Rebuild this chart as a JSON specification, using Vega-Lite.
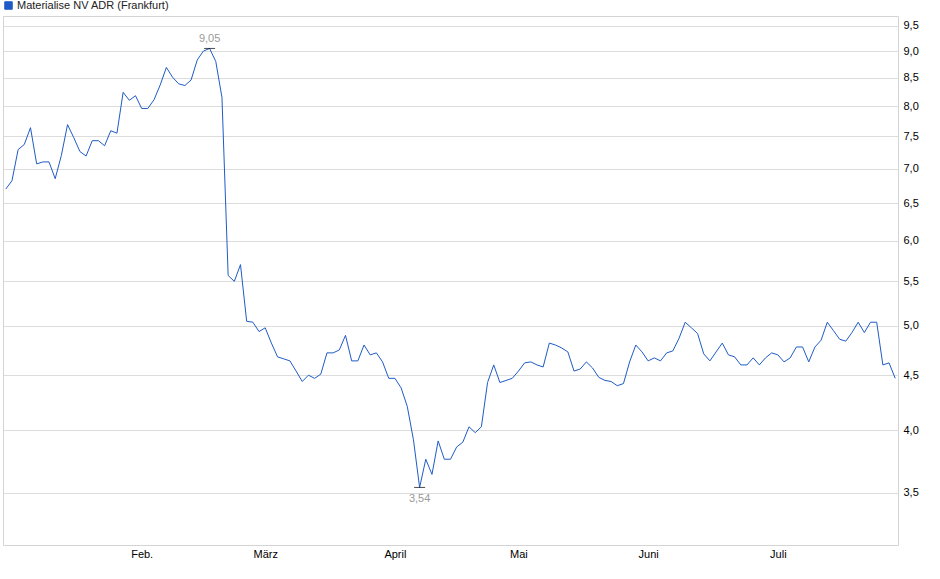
{
  "$schema": "https://vega.github.io/schema/vega-lite/v6.json",
  "description": "Materialise NV ADR (Frankfurt), Kursverlauf Jan-Jul 2025, Handelstage gleichmaessig verteilt.",
  "width": 895,
  "height": 529,
  "autosize": "none",
  "padding": {"left": 3, "top": 16, "right": 42, "bottom": 34},
  "config": {
    "font": "Liberation Sans",
    "view": {"stroke": "#d4d4d4", "strokeWidth": 1},
    "axis": {
      "gridColor": "#dcdcdc",
      "gridWidth": 1,
      "domain": false,
      "ticks": false,
      "labelFontSize": 11,
      "labelColor": "#000000",
      "title": null
    }
  },
  "datasets": {
    "prices": [
      {"date": "2025-01-02", "price": 6.70}, {"date": "2025-01-03", "price": 6.82},
      {"date": "2025-01-06", "price": 7.29}, {"date": "2025-01-07", "price": 7.37},
      {"date": "2025-01-08", "price": 7.64}, {"date": "2025-01-09", "price": 7.07},
      {"date": "2025-01-10", "price": 7.10}, {"date": "2025-01-13", "price": 7.10},
      {"date": "2025-01-14", "price": 6.85}, {"date": "2025-01-15", "price": 7.20},
      {"date": "2025-01-16", "price": 7.69}, {"date": "2025-01-17", "price": 7.48},
      {"date": "2025-01-20", "price": 7.26}, {"date": "2025-01-21", "price": 7.19},
      {"date": "2025-01-22", "price": 7.43}, {"date": "2025-01-23", "price": 7.43},
      {"date": "2025-01-24", "price": 7.35}, {"date": "2025-01-27", "price": 7.59},
      {"date": "2025-01-28", "price": 7.55}, {"date": "2025-01-29", "price": 8.24},
      {"date": "2025-01-30", "price": 8.10}, {"date": "2025-01-31", "price": 8.18},
      {"date": "2025-02-03", "price": 7.96}, {"date": "2025-02-04", "price": 7.96},
      {"date": "2025-02-05", "price": 8.11}, {"date": "2025-02-06", "price": 8.37},
      {"date": "2025-02-07", "price": 8.69}, {"date": "2025-02-10", "price": 8.51},
      {"date": "2025-02-11", "price": 8.39}, {"date": "2025-02-12", "price": 8.36},
      {"date": "2025-02-13", "price": 8.46}, {"date": "2025-02-14", "price": 8.83},
      {"date": "2025-02-17", "price": 9.00}, {"date": "2025-02-18", "price": 9.05},
      {"date": "2025-02-19", "price": 8.80}, {"date": "2025-02-20", "price": 8.15},
      {"date": "2025-02-21", "price": 5.57}, {"date": "2025-02-24", "price": 5.50},
      {"date": "2025-02-25", "price": 5.70}, {"date": "2025-02-26", "price": 5.05},
      {"date": "2025-02-27", "price": 5.04}, {"date": "2025-02-28", "price": 4.94},
      {"date": "2025-03-03", "price": 4.98}, {"date": "2025-03-04", "price": 4.82},
      {"date": "2025-03-05", "price": 4.68}, {"date": "2025-03-06", "price": 4.66},
      {"date": "2025-03-07", "price": 4.64}, {"date": "2025-03-10", "price": 4.54},
      {"date": "2025-03-11", "price": 4.44}, {"date": "2025-03-12", "price": 4.50},
      {"date": "2025-03-13", "price": 4.47}, {"date": "2025-03-14", "price": 4.51},
      {"date": "2025-03-17", "price": 4.72}, {"date": "2025-03-18", "price": 4.72},
      {"date": "2025-03-19", "price": 4.75}, {"date": "2025-03-20", "price": 4.90},
      {"date": "2025-03-21", "price": 4.64}, {"date": "2025-03-24", "price": 4.64},
      {"date": "2025-03-25", "price": 4.80}, {"date": "2025-03-26", "price": 4.70},
      {"date": "2025-03-27", "price": 4.72}, {"date": "2025-03-28", "price": 4.63},
      {"date": "2025-03-31", "price": 4.47}, {"date": "2025-04-01", "price": 4.47},
      {"date": "2025-04-02", "price": 4.38}, {"date": "2025-04-03", "price": 4.21},
      {"date": "2025-04-04", "price": 3.92}, {"date": "2025-04-07", "price": 3.54},
      {"date": "2025-04-08", "price": 3.76}, {"date": "2025-04-09", "price": 3.64},
      {"date": "2025-04-10", "price": 3.91}, {"date": "2025-04-11", "price": 3.76},
      {"date": "2025-04-14", "price": 3.76}, {"date": "2025-04-15", "price": 3.86},
      {"date": "2025-04-16", "price": 3.90}, {"date": "2025-04-17", "price": 4.03},
      {"date": "2025-04-22", "price": 3.98}, {"date": "2025-04-23", "price": 4.03},
      {"date": "2025-04-24", "price": 4.43}, {"date": "2025-04-25", "price": 4.60},
      {"date": "2025-04-28", "price": 4.43}, {"date": "2025-04-29", "price": 4.45},
      {"date": "2025-04-30", "price": 4.47}, {"date": "2025-05-02", "price": 4.54},
      {"date": "2025-05-05", "price": 4.62}, {"date": "2025-05-06", "price": 4.63},
      {"date": "2025-05-07", "price": 4.60}, {"date": "2025-05-08", "price": 4.58},
      {"date": "2025-05-09", "price": 4.82}, {"date": "2025-05-12", "price": 4.80},
      {"date": "2025-05-13", "price": 4.77}, {"date": "2025-05-14", "price": 4.73},
      {"date": "2025-05-15", "price": 4.54}, {"date": "2025-05-16", "price": 4.56},
      {"date": "2025-05-19", "price": 4.63}, {"date": "2025-05-20", "price": 4.57},
      {"date": "2025-05-21", "price": 4.48}, {"date": "2025-05-22", "price": 4.45},
      {"date": "2025-05-23", "price": 4.44}, {"date": "2025-05-26", "price": 4.40},
      {"date": "2025-05-27", "price": 4.42}, {"date": "2025-05-28", "price": 4.63},
      {"date": "2025-05-29", "price": 4.80}, {"date": "2025-05-30", "price": 4.73},
      {"date": "2025-06-02", "price": 4.64}, {"date": "2025-06-03", "price": 4.67},
      {"date": "2025-06-04", "price": 4.64}, {"date": "2025-06-05", "price": 4.72},
      {"date": "2025-06-06", "price": 4.74}, {"date": "2025-06-09", "price": 4.87},
      {"date": "2025-06-10", "price": 5.04}, {"date": "2025-06-11", "price": 4.98},
      {"date": "2025-06-12", "price": 4.92}, {"date": "2025-06-13", "price": 4.71},
      {"date": "2025-06-16", "price": 4.64}, {"date": "2025-06-17", "price": 4.73},
      {"date": "2025-06-18", "price": 4.82}, {"date": "2025-06-19", "price": 4.70},
      {"date": "2025-06-20", "price": 4.68}, {"date": "2025-06-23", "price": 4.60},
      {"date": "2025-06-24", "price": 4.60}, {"date": "2025-06-25", "price": 4.67},
      {"date": "2025-06-26", "price": 4.60}, {"date": "2025-06-27", "price": 4.67},
      {"date": "2025-06-30", "price": 4.72}, {"date": "2025-07-01", "price": 4.70},
      {"date": "2025-07-02", "price": 4.63}, {"date": "2025-07-03", "price": 4.67},
      {"date": "2025-07-04", "price": 4.78}, {"date": "2025-07-07", "price": 4.78},
      {"date": "2025-07-08", "price": 4.63}, {"date": "2025-07-09", "price": 4.78},
      {"date": "2025-07-10", "price": 4.85}, {"date": "2025-07-11", "price": 5.04},
      {"date": "2025-07-14", "price": 4.95}, {"date": "2025-07-15", "price": 4.86},
      {"date": "2025-07-16", "price": 4.84}, {"date": "2025-07-17", "price": 4.93},
      {"date": "2025-07-18", "price": 5.04}, {"date": "2025-07-21", "price": 4.93},
      {"date": "2025-07-22", "price": 5.04}, {"date": "2025-07-23", "price": 5.04},
      {"date": "2025-07-24", "price": 4.60}, {"date": "2025-07-25", "price": 4.62},
      {"date": "2025-07-28", "price": 4.47}
    ],
    "extremes": [
      {"date": "2025-02-18", "price": 9.05, "label": "9,05", "kind": "max"},
      {"date": "2025-04-07", "price": 3.54, "label": "3,54", "kind": "min"}
    ]
  },
  "layer": [
    {
      "data": {"name": "prices"},
      "mark": {"type": "line", "strokeWidth": 1, "interpolate": "linear"},
      "encoding": {
        "x": {
          "field": "date",
          "type": "ordinal",
          "sort": "ascending",
          "scale": {"type": "point", "padding": 0.45},
          "axis": {
            "values": ["2025-01-02", "2025-02-03", "2025-03-03", "2025-04-01", "2025-05-02", "2025-06-02", "2025-07-01"],
            "labelExpr": "datum.value == '2025-02-03' ? 'Feb.' : datum.value == '2025-03-03' ? 'März' : datum.value == '2025-04-01' ? 'April' : datum.value == '2025-05-02' ? 'Mai' : datum.value == '2025-06-02' ? 'Juni' : datum.value == '2025-07-01' ? 'Juli' : ''",
            "labelAngle": 0,
            "labelPadding": 3,
            "labelAlign": "center"
          }
        },
        "y": {
          "field": "price",
          "type": "quantitative",
          "scale": {"type": "log", "domain": [3.13, 9.7], "nice": false, "zero": false},
          "axis": {
            "orient": "right",
            "values": [3.5, 4, 4.5, 5, 5.5, 6, 6.5, 7, 7.5, 8, 8.5, 9, 9.5],
            "labelExpr": "replace(format(datum.value, '.1f'), '.', ',')",
            "labelPadding": 5
          }
        },
        "color": {
          "datum": "Materialise NV ADR (Frankfurt)",
          "type": "nominal",
          "scale": {"range": ["#1f5bc6"]},
          "legend": {
            "orient": "none",
            "legendX": 0,
            "legendY": -16,
            "title": null,
            "symbolType": "square",
            "symbolSize": 56,
            "symbolFillColor": "#1f5bc6",
            "symbolStrokeColor": "#0c2f78",
            "symbolStrokeWidth": 1,
            "labelFontSize": 11,
            "labelColor": "#222222",
            "labelOffset": 3,
            "padding": 0
          }
        }
      }
    },
    {
      "data": {"name": "extremes"},
      "mark": {"type": "tick", "color": "#000000", "thickness": 1, "size": 11},
      "encoding": {
        "x": {"field": "date", "type": "ordinal"},
        "y": {"field": "price", "type": "quantitative"}
      }
    },
    {
      "data": {"name": "extremes"},
      "transform": [{"filter": "datum.kind == 'max'"}],
      "mark": {"type": "text", "color": "#9a9a9a", "fontSize": 11, "align": "center", "baseline": "middle", "dy": -9},
      "encoding": {
        "x": {"field": "date", "type": "ordinal"},
        "y": {"field": "price", "type": "quantitative"},
        "text": {"field": "label"}
      }
    },
    {
      "data": {"name": "extremes"},
      "transform": [{"filter": "datum.kind == 'min'"}],
      "mark": {"type": "text", "color": "#9a9a9a", "fontSize": 11, "align": "center", "baseline": "middle", "dy": 12},
      "encoding": {
        "x": {"field": "date", "type": "ordinal"},
        "y": {"field": "price", "type": "quantitative"},
        "text": {"field": "label"}
      }
    }
  ]
}
